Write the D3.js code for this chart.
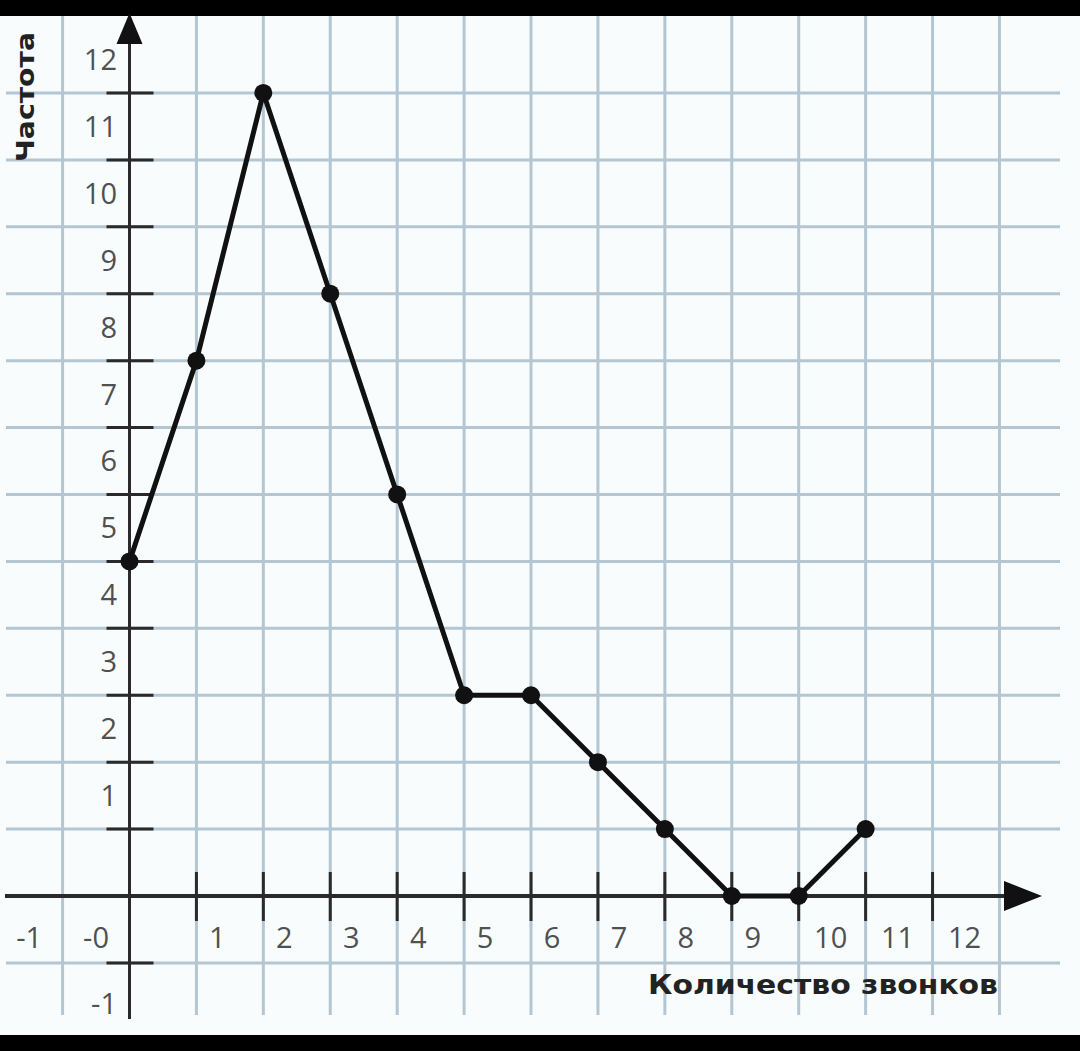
<!DOCTYPE html>
<html><head><meta charset="utf-8">
<script src="https://cdn.jsdelivr.net/npm/d3@7/dist/d3.min.js"></script>
<style>html,body{margin:0;padding:0;background:#000;}svg{display:block;}</style>
</head><body>
<script>
// Data
const calls = [0, 1, 2, 3, 4, 5, 6, 7, 8, 9, 10, 11];
const frequency = [5, 8, 12, 9, 6, 3, 3, 2, 1, 0, 0, 1];
const xTickLabels = ["-1", "-0", "1", "2", "3", "4", "5", "6", "7", "8", "9", "10", "11", "12"];
const xTickLabelPos = [-1.5, -0.5, 1, 2, 3, 4, 5, 6, 7, 8, 9, 10, 11, 12];
const yTickLabels = ["-1", "1", "2", "3", "4", "5", "6", "7", "8", "9", "10", "11", "12"];
const yTickLabelPos = [-1.6, 1.5, 2.5, 3.5, 4.5, 5.5, 6.5, 7.5, 8.5, 9.5, 10.5, 11.5, 12.5];
const xTitle = "Количество звонков";
const yTitle = "Частота";

const W = 1080, H = 1051;
const svg = d3.select("body").append("svg").attr("width", W).attr("height", H);

// frame
svg.append("rect").attr("width", W).attr("height", H).attr("fill", "#000");
svg.append("rect").attr("x", 0).attr("y", 16).attr("width", W).attr("height", 1019).attr("fill", "#f8fcfd");

const step = 66.92;
const x = d3.scaleLinear().domain([0, 13]).range([129.5, 129.5 + 13 * step]);
const y = d3.scaleLinear().domain([0, 12]).range([896, 896 - 12 * step]);

const g = svg.append("g");
const gridColor = "#b4c6d2";

// vertical grid
g.selectAll(".vg").data(d3.range(-1, 14)).enter().append("line")
  .attr("x1", d => x(d)).attr("x2", d => x(d))
  .attr("y1", 16).attr("y2", 1015)
  .attr("stroke", gridColor).attr("stroke-width", 3);
// horizontal grid
g.selectAll(".hg").data(d3.range(-1, 13).filter(d => d !== 0)).enter().append("line")
  .attr("x1", 6).attr("x2", 1060)
  .attr("y1", d => y(d)).attr("y2", d => y(d))
  .attr("stroke", gridColor).attr("stroke-width", 3);

// axes
const axisColor = "#2a2a2a";
g.append("line").attr("x1", 5).attr("x2", 1010).attr("y1", y(0)).attr("y2", y(0))
  .attr("stroke", axisColor).attr("stroke-width", 4);
g.append("line").attr("x1", x(0)).attr("x2", x(0)).attr("y1", 1019).attr("y2", 38)
  .attr("stroke", axisColor).attr("stroke-width", 3);
// arrows
g.append("path").attr("d", `M${x(0)},13 L${x(0) - 13},44 L${x(0) + 13},44 Z`).attr("fill", "#111");
g.append("path").attr("d", `M1042,${y(0)} L1004,${y(0) - 15} L1004,${y(0) + 15} Z`).attr("fill", "#111");

// ticks
g.selectAll(".yt").data(d3.range(-1, 13).filter(d => d !== 0)).enter().append("line")
  .attr("x1", x(0) - 23).attr("x2", x(0) + 24)
  .attr("y1", d => y(d)).attr("y2", d => y(d))
  .attr("stroke", axisColor).attr("stroke-width", 3);
g.selectAll(".xt").data(d3.range(1, 13)).enter().append("line")
  .attr("x1", d => x(d)).attr("x2", d => x(d))
  .attr("y1", y(0) - 24).attr("y2", y(0) + 25)
  .attr("stroke", axisColor).attr("stroke-width", 3);

// tick labels
const labelFont = "'Open Sans', 'DejaVu Sans', sans-serif";
g.selectAll(".xl").data(xTickLabels).enter().append("text")
  .attr("x", (d, i) => {
    const v = xTickLabelPos[i];
    if (v < 0) return x(v);
    return x(v) + 21 + (d.length - 1) * 11;
  })
  .attr("y", 938).attr("dy", "0.36em")
  .attr("text-anchor", "middle")
  .attr("font-family", labelFont).attr("font-size", 29)
  .attr("fill", "#505050")
  .text(d => d);

g.selectAll(".yl").data(yTickLabels).enter().append("text")
  .attr("x", 117).attr("y", (d, i) => y(yTickLabelPos[i])).attr("dy", "0.36em")
  .attr("text-anchor", "end")
  .attr("font-family", labelFont).attr("font-size", 29)
  .attr("fill", "#505050")
  .text(d => d);

// titles
g.append("text").attr("transform", "translate(25,97) rotate(-90)")
  .attr("text-anchor", "middle").attr("dy", "0.36em")
  .attr("font-family", "'DejaVu Sans', sans-serif").attr("font-weight", "bold")
  .attr("font-size", 24).attr("fill", "#222")
  .attr("textLength", 130).attr("lengthAdjust", "spacingAndGlyphs")
  .text(yTitle);
g.append("text").attr("x", 648).attr("y", 985).attr("dy", "0.36em")
  .attr("font-family", "'DejaVu Sans', sans-serif").attr("font-weight", "bold")
  .attr("font-size", 26).attr("fill", "#222")
  .attr("textLength", 350).attr("lengthAdjust", "spacingAndGlyphs")
  .text(xTitle);

// polygon line
const pts = calls.map((c, i) => [c, frequency[i]]);
const line = d3.line().x(d => x(d[0])).y(d => y(d[1]));
g.append("path").datum(pts).attr("d", line)
  .attr("fill", "none").attr("stroke", "#111").attr("stroke-width", 5)
  .attr("stroke-linejoin", "round");
g.selectAll(".pt").data(pts).enter().append("circle")
  .attr("cx", d => x(d[0])).attr("cy", d => y(d[1])).attr("r", 9)
  .attr("fill", "#111");
</script>
</body></html>
